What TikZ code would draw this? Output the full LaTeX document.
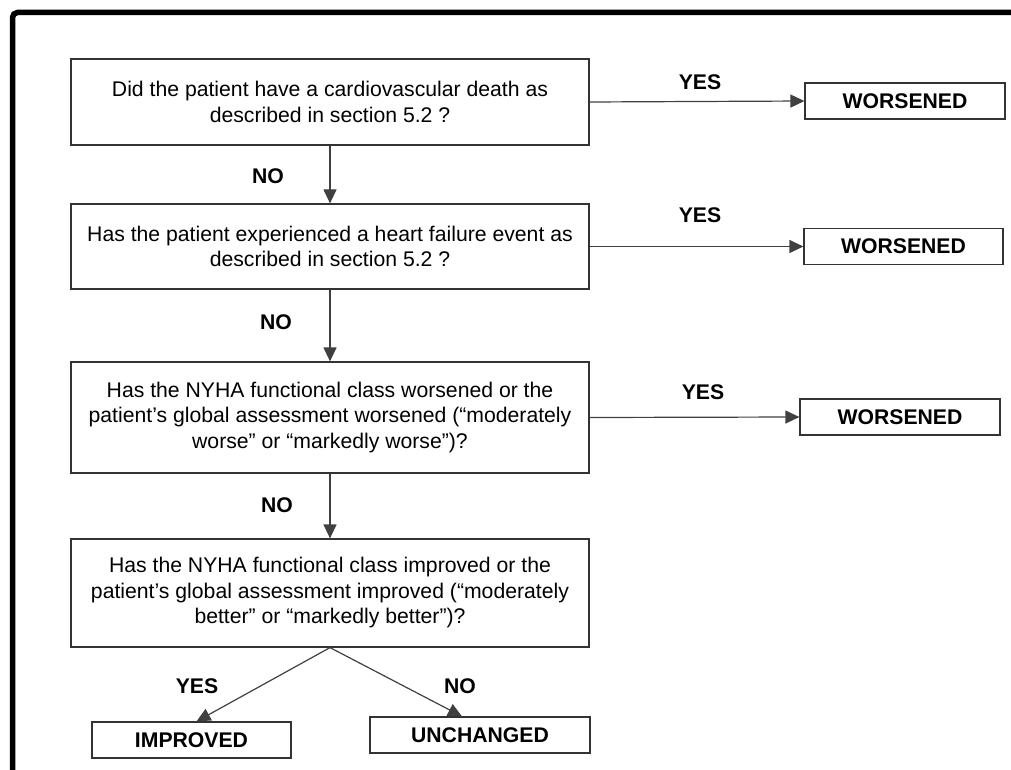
\documentclass[tikz,border=0pt]{standalone}
\usepackage{fontspec}
\setmainfont{Liberation Sans}
\usetikzlibrary{arrows.meta}

\begin{document}
\begin{tikzpicture}[x=1pt,y=-1pt]
    \tikzset{every node/.style={font=\fontsize{21.2}{25.5}\selectfont}}
    \tikzset{question/.style={draw=black!80,line width=1.2pt,minimum width=518pt,align=center,inner sep=0pt}}
    \tikzset{outcome/.style={draw=black!80,line width=1.2pt,minimum height=36pt,inner sep=0pt,font=\fontsize{21.2}{25.5}\selectfont\bfseries}}
    \tikzset{answer/.style={inner sep=0pt,font=\fontsize{21.2}{25.5}\selectfont\bfseries}}
    \tikzset{flow/.style={draw=black!75,line width=1.2pt,-{Triangle[length=14pt,width=13pt]}}}
    \useasboundingbox (0,0) rectangle (1011,770);
    \begin{scope}
    \clip (0,0) rectangle (1011,770);
    \draw[line width=5.5pt,rounded corners=5pt] (12.5,800) -- (12.5,12.5) -- (1040,12.5);
    \end{scope}
    % questions
    \node[question,minimum height=86pt] (q1) at (330,102) {Did the patient have a cardiovascular death as\\described in section 5.2 ?};
    \node[question,minimum height=85pt] (q2) at (330,246.5) {Has the patient experienced a heart failure event as\\described in section 5.2 ?};
    \node[question,minimum height=111pt] (q3) at (330,417.5) {Has the NYHA functional class worsened or the\\patient’s global assessment worsened (“moderately\\worse” or “markedly worse”)?};
    \node[question,minimum height=108pt] (q4) at (330,593) {Has the NYHA functional class improved or the\\patient’s global assessment improved (“moderately\\better” or “markedly better”)?};
    % outcomes
    \node[outcome,minimum width=200pt] (w1) at (905,101) {WORSENED};
    \node[outcome,minimum width=199pt] (w2) at (903.5,246.5) {WORSENED};
    \node[outcome,minimum width=200pt] (w3) at (900,417) {WORSENED};
    \node[outcome,minimum width=199pt] (imp) at (191.5,740) {IMPROVED};
    \node[outcome,minimum width=220pt] (unch) at (480,735) {UNCHANGED};
    % connectors
    \draw[flow] (q1.east) -- (w1.west);
    \draw[flow] (q2.east) -- (w2.west);
    \draw[flow] (q3.east) -- (w3.west);
    \draw[flow] (q1.south) -- (q2.north);
    \draw[flow] (q2.south) -- (q3.north);
    \draw[flow] (q3.south) -- (q4.north);
    \draw[flow] (q4.south) -- ([xshift=5pt]imp.north);
    \draw[flow] (q4.south) -- ([xshift=-18pt]unch.north);
    % labels
    \node[answer] (y1) at (700,82) {YES};
    \node[answer] (y2) at (700,215) {YES};
    \node[answer] (y3) at (703,392) {YES};
    \node[answer] (n1) at (268,176) {NO};
    \node[answer] (n2) at (276,322) {NO};
    \node[answer] (n3) at (277,505) {NO};
    \node[answer] (y4) at (197,686) {YES};
    \node[answer] (n4) at (460,686) {NO};
\end{tikzpicture}
\end{document}
